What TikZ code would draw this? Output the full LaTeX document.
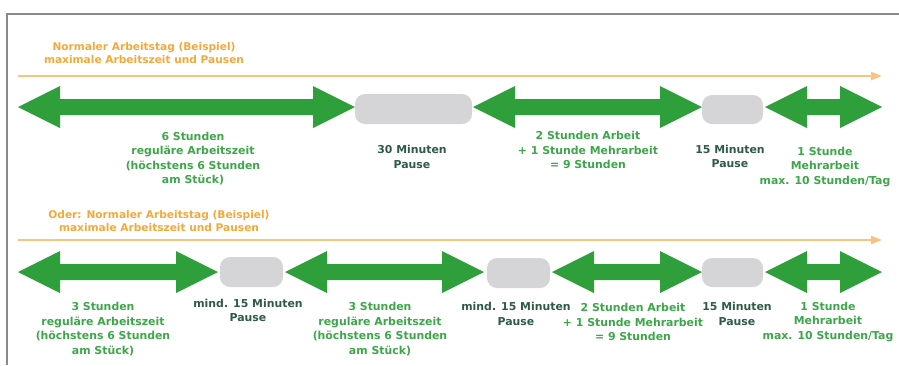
\documentclass[tikz,border=0pt]{standalone}
\usepackage{fontspec}
\setmainfont{DejaVu Sans}
\usetikzlibrary{arrows.meta}
\definecolor{arrgreen}{HTML}{2E9F3A}
\definecolor{txtgreen}{HTML}{3DA64A}
\definecolor{pausegrey}{HTML}{D5D5D7}
\definecolor{linorange}{HTML}{F7C37E}
\definecolor{txtorange}{HTML}{F2A93B}
\definecolor{darktxt}{HTML}{2F5A45}
\definecolor{framegrey}{HTML}{8A8A8A}
\newcommand\dblarr[4]{% name, x1, x2, y
  \fill[arrgreen] (#2,#4) -- ({#2+42},{#4-21}) -- ({#2+42},{#4-8}) -- ({#3-42},{#4-8})
    -- ({#3-42},{#4-21}) -- (#3,#4) -- ({#3-42},{#4+21}) -- ({#3-42},{#4+8})
    -- ({#2+42},{#4+8}) -- ({#2+42},{#4+21}) -- cycle;
  \coordinate (#1) at ({(#2+#3)/2},#4);}
\begin{document}
\begin{tikzpicture}[x=1pt,y=-1pt,
  lbl/.style={font=\bfseries\fontsize{10.9}{14.5}\selectfont, align=center, text=txtgreen, inner sep=0pt},
  plbl/.style={lbl, text=darktxt},
  ttl/.style={lbl, text=txtorange, font=\bfseries\fontsize{10.6}{13}\selectfont},
  pause/.style={fill=pausegrey, rounded corners=10pt},
  tline/.style={draw=linorange, line width=2.2pt, -{Triangle[length=11pt,width=8pt]}}]
\useasboundingbox (0,0) rectangle (899,365);
% frame
\draw[framegrey, line width=2pt] (899,14) -- (7,14) -- (7,365);
% ---------- row 1 ----------
\node[ttl] (t1) at (144,53.5) {Normaler Arbeitstag (Beispiel)\\maximale Arbeitszeit und Pausen};
\coordinate (l1s) at (18,76);
\coordinate (l1e) at (882,76);
\draw[tline] (l1s) -- (l1e);
\dblarr{a11}{18}{355}{107}
\fill[pause] (355,94) rectangle (472,124);
\coordinate (p11) at (413.5,109);
\dblarr{a12}{473}{702}{107}
\fill[pause] (702,95) rectangle (763,124);
\coordinate (p12) at (732.5,109);
\dblarr{a13}{765}{882}{107}
\node[lbl] (tx11) at (193,158.5) {6 Stunden\\reguläre Arbeitszeit\\(höchstens 6 Stunden\\am Stück)};
\node[plbl] (tx12) at (412,157) {30 Minuten\\Pause};
\node[lbl] (tx13) at (588,150) {2 Stunden Arbeit\\+ 1 Stunde Mehrarbeit\\= 9 Stunden};
\node[plbl] (tx14) at (730,156.5) {15 Minuten\\Pause};
\node[lbl] (tx15) at (825,167) {1 Stunde\\Mehrarbeit\\max. 10 Stunden/Tag};
% ---------- row 2 ----------
\node[ttl] (t2) at (159,221.5) {Oder: Normaler Arbeitstag (Beispiel)\\maximale Arbeitszeit und Pausen};
\coordinate (l2s) at (18,240);
\coordinate (l2e) at (882,240);
\draw[tline] (l2s) -- (l2e);
\dblarr{a21}{18}{218}{272}
\fill[pause] (220,257) rectangle (283,287);
\dblarr{a22}{285}{484}{272}
\fill[pause] (487,258) rectangle (550,288);
\dblarr{a23}{552}{702}{272}
\fill[pause] (702,258) rectangle (763,287);
\dblarr{a24}{765}{882}{272}
\node[lbl] (tx21) at (103,329) {3 Stunden\\reguläre Arbeitszeit\\(höchstens 6 Stunden\\am Stück)};
\node[plbl] (tx22) at (248,310.5) {mind. 15 Minuten\\Pause};
\node[lbl] (tx23) at (380,329) {3 Stunden\\reguläre Arbeitszeit\\(höchstens 6 Stunden\\am Stück)};
\node[plbl] (tx24) at (516,314) {mind. 15 Minuten\\Pause};
\node[lbl] (tx25) at (633,322) {2 Stunden Arbeit\\+ 1 Stunde Mehrarbeit\\= 9 Stunden};
\node[plbl] (tx26) at (737,314) {15 Minuten\\Pause};
\node[lbl] (tx27) at (828,322) {1 Stunde\\Mehrarbeit\\max. 10 Stunden/Tag};
\end{tikzpicture}
\end{document}
